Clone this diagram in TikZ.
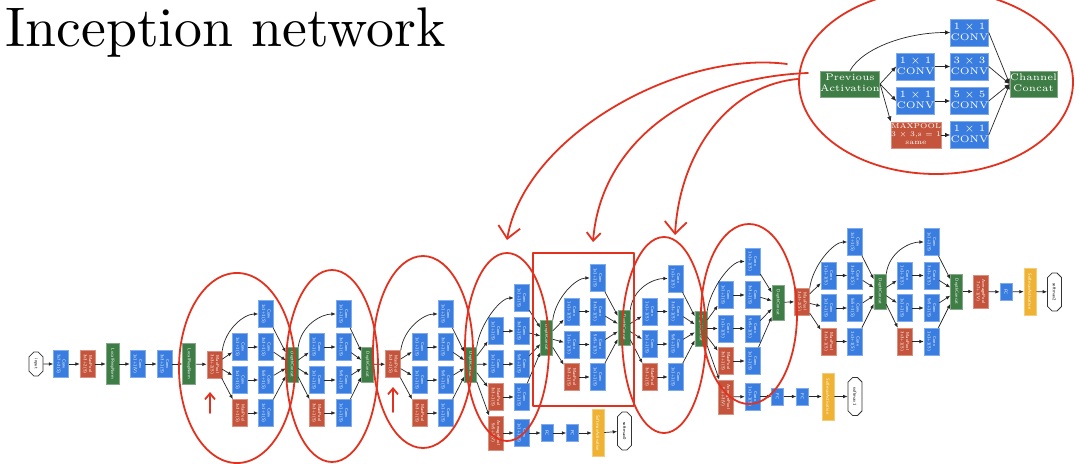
\documentclass[tikz,border=0pt]{standalone}
\usepackage{tikz}
\usetikzlibrary{arrows.meta,shapes.misc}
\definecolor{convBlue}{HTML}{3A7DE0}
\definecolor{poolRed}{HTML}{C4553C}
\definecolor{catGreen}{HTML}{3F7D46}
\definecolor{softYellow}{HTML}{EFB233}
\definecolor{inkRed}{HTML}{E2321F}
\font\ttlfont="[lmroman10-regular]:mapping=tex-text" at 27.9pt
\newcommand{\lyr}[2]{\rotatebox{-90}{\begin{tabular}{@{}c@{}}#1\\#2\end{tabular}}}
\newcommand{\lyrone}[1]{\rotatebox{-90}{#1}}
\newcommand{\twol}[2]{\begin{tabular}{@{}c@{}}#1\\#2\end{tabular}}
\tikzset{
  blk/.style={draw=#1!65!white,fill=#1,line width=0.25pt,inner sep=0pt,text=white,
    minimum width=7.5pt,minimum height=13.5pt,font=\sffamily\fontsize{2.2}{2.6}\selectfont},
  conv/.style={blk=convBlue},
  pool/.style={blk=poolRed},
  avgp/.style={blk=poolRed,minimum height=17pt},
  cat/.style={blk=catGreen,minimum width=6pt,minimum height=17.5pt},
  lrn/.style={blk=catGreen,minimum width=6.5pt,minimum height=20.5pt},
  fc/.style={blk=convBlue,minimum width=6pt,minimum height=8.5pt},
  smact/.style={blk=softYellow,minimum width=6pt,minimum height=23.5pt},
  term/.style={draw=black!80,fill=white,line width=0.4pt,chamfered rectangle,
    chamfered rectangle xsep=1.5pt,chamfered rectangle ysep=2.5pt,inner sep=0pt,
    minimum width=7pt,minimum height=19pt,font=\sffamily\fontsize{2.2}{2.6}\selectfont},
  lnk/.style={-{Latex[length=2.2pt,width=1.8pt]},line width=0.35pt,black!85},
  mbox/.style={draw=#1!65!white,fill=#1,line width=0.3pt,inner sep=0pt,text=white,
    minimum width=17.5pt,minimum height=13.5pt,font=\fontsize{4.8}{5.5}\selectfont},
  mlnk/.style={-{Latex[length=2.6pt,width=2.2pt]},line width=0.35pt,black!85},
  ink/.style={draw=inkRed,line width=0.9pt,line cap=round,line join=round}
}

\begin{document}
\begin{tikzpicture}[x=0.5pt,y=-0.5pt]
  \useasboundingbox[fill=white] (0,0) rectangle (1080,464);
  \node[anchor=base west,inner sep=0pt,font=\ttlfont] (title) at (5,47) {Inception network};

  % stem
  \node[term,minimum height=12pt] (input) at (36,364) {\lyrone{input}};
  \node[conv] (conv1) at (61,364) {\lyr{Conv}{7x7+2(S)}};
  \node[pool] (mp1) at (87.5,364) {\lyr{MaxPool}{3x3+2(S)}};
  \node[lrn] (lrn1) at (112.5,364) {\lyrone{LocalRespNorm}};
  \node[conv] (conv2) at (137.5,364) {\lyr{Conv}{1x1+1(V)}};
  \node[conv] (conv3) at (164.5,364) {\lyr{Conv}{3x3+1(S)}};
  \node[lrn] (lrn2) at (189,364) {\lyrone{LocalRespNorm}};
  \node[pool] (mp2) at (214.5,364.5) {\lyr{MaxPool}{3x3+2(S)}};
  \node[pool] (mp3) at (393,364) {\lyr{MaxPool}{3x3+2(S)}};
  \node[pool] (mp4) at (802,301.5) {\lyr{MaxPool}{3x3+2(S)}};
  \foreach \a/\b in {input/conv1,conv1/mp1,mp1/lrn1,lrn1/conv2,conv2/conv3,conv3/lrn2,lrn2/mp2}
    \draw[lnk] (\a) -- (\b);

  % inception blocks
  \foreach \m/\src/\xl/\xr/\xc/\yc/\ya/\yb/\yd/\ye in {
      3a/mp2/240/266/292/364.5/314/347/380/413,
      3b/3a-cat/316.5/343.5/367.5/364.5/314/347/380/413,
      4a/mp3/419.5/445.5/470.5/364.5/314/347/380/413,
      4b/4a-cat/495.5/521.5/546.5/337.5/298/331/364/397,
      4c/4b-cat/571.5/597.5/624/327.5/278/311.5/344.5/377,
      4d/4c-cat/649.5/675.5/701/328.5/278.5/311.5/344/377,
      4e/4d-cat/725.5/752.5/778/302.5/261.5/295/328.5/361,
      5a/mp4/828.5/855/880/291.5/242/275.5/308/341.5,
      5b/5a-cat/904.5/931.5/956.5/291.5/242/275.5/308/341.5} {
    \node[conv] (\m-t) at (\xr,\ya) {\lyr{Conv}{1x1+1(S)}};
    \node[conv] (\m-r1) at (\xl,\yb) {\lyr{Conv}{1x1+1(S)}};
    \node[conv] (\m-c3) at (\xr,\yb) {\lyr{Conv}{3x3+1(S)}};
    \node[conv] (\m-r2) at (\xl,\yd) {\lyr{Conv}{1x1+1(S)}};
    \node[conv] (\m-c5) at (\xr,\yd) {\lyr{Conv}{5x5+1(S)}};
    \node[pool] (\m-p) at (\xl,\ye) {\lyr{MaxPool}{3x3+1(S)}};
    \node[conv] (\m-pc) at (\xr,\ye) {\lyr{Conv}{1x1+1(S)}};
    \node[cat] (\m-cat) at (\xc,\yc) {\lyrone{DepthConcat}};
    \draw[lnk] (\src.north east) .. controls +(3,-22) and +(-14,0) .. (\m-t.west);
    \foreach \n in {r1,r2,p}
      \draw[lnk] (\src) -- (\m-\n);
    \draw[lnk] (\m-r1) -- (\m-c3);
    \draw[lnk] (\m-r2) -- (\m-c5);
    \draw[lnk] (\m-p) -- (\m-pc);
    \foreach \n in {t,c3,c5,pc}
      \draw[lnk] (\m-\n) -- (\m-cat);
  }

  % auxiliary heads and output
  \node[avgp] (ax0-avg) at (495.5,433) {\lyr{AveragePool}{5x5+3(V)}};
  \node[conv] (ax0-conv) at (521.5,433) {\lyr{Conv}{1x1+1(S)}};
  \node[fc] (ax0-fc1) at (547,433) {\lyrone{FC}};
  \node[fc] (ax0-fc2) at (572.5,433) {\lyrone{FC}};
  \node[smact] (ax0-sm) at (598,433) {\lyrone{SoftmaxActivation}};
  \node[term] (ax0-out) at (624.5,431) {\lyrone{softmax0}};
  \node[avgp] (ax1-avg) at (725.5,397) {\lyr{AveragePool}{5x5+3(V)}};
  \node[conv] (ax1-conv) at (752.5,396.5) {\lyr{Conv}{1x1+1(S)}};
  \node[fc] (ax1-fc1) at (777.5,396.5) {\lyrone{FC}};
  \node[fc] (ax1-fc2) at (802.5,396.5) {\lyrone{FC}};
  \node[smact] (ax1-sm) at (828,396.5) {\lyrone{SoftmaxActivation}};
  \node[term] (ax1-out) at (855,396.5) {\lyrone{softmax1}};
  \node[avgp,minimum height=16.5pt] (avg7) at (980.5,291.5) {\lyr{AveragePool}{7x7+1(V)}};
  \node[fc] (fc7) at (1006,292) {\lyrone{FC}};
  \node[smact] (sm2) at (1030,291.5) {\lyrone{SoftmaxActivation}};
  \node[term] (out2) at (1054.5,292) {\lyrone{softmax2}};
  \foreach \a/\b in {3b-cat/mp3,4e-cat/mp4,5b-cat/avg7,avg7/fc7,fc7/sm2,sm2/out2,
      4a-cat/ax0-avg,ax0-avg/ax0-conv,ax0-conv/ax0-fc1,ax0-fc1/ax0-fc2,ax0-fc2/ax0-sm,ax0-sm/ax0-out,
      4d-cat/ax1-avg,ax1-avg/ax1-conv,ax1-conv/ax1-fc1,ax1-fc1/ax1-fc2,ax1-fc2/ax1-sm,ax1-sm/ax1-out}
    \draw[lnk] (\a) -- (\b);

  % one inception module
  \node[mbox=catGreen,minimum width=26pt,minimum height=13pt] (prev) at (850,84) {\twol{Previous}{Activation}};
  \node[mbox=convBlue] (i-t) at (969.5,32.5) {\twol{1 × 1}{CONV}};
  \node[mbox=convBlue] (i-r1) at (915.5,66.5) {\twol{1 × 1}{CONV}};
  \node[mbox=convBlue] (i-c3) at (969.5,66.5) {\twol{3 × 3}{CONV}};
  \node[mbox=convBlue] (i-r2) at (915.5,101) {\twol{1 × 1}{CONV}};
  \node[mbox=convBlue] (i-c5) at (969.5,101) {\twol{5 × 5}{CONV}};
  \node[mbox=poolRed,minimum width=20pt,minimum height=13pt,font=\fontsize{3.6}{4}\selectfont] (i-mp) at (916,135)
    {\begin{tabular}{@{}c@{}}MAXPOOL\\3 × 3,s = 1\\same\end{tabular}};
  \node[mbox=convBlue] (i-pc) at (969.5,135) {\twol{1 × 1}{CONV}};
  \node[mbox=catGreen,minimum width=22.5pt,minimum height=13pt] (chcat) at (1033.5,84) {\twol{Channel}{Concat}};
  \draw[mlnk] (prev.north) .. controls +(12,-22) and +(-45,0) .. (i-t.west);
  \draw[mlnk] (prev.east) -- (i-r1.west);
  \draw[mlnk] (prev.east) -- (i-r2.west);
  \draw[mlnk] (prev.east) -- (i-mp.north west);
  \draw[mlnk] (i-r1) -- (i-c3);
  \draw[mlnk] (i-r2) -- (i-c5);
  \draw[mlnk] (i-mp) -- (i-pc);
  \foreach \n in {t,c3,c5,pc}
    \draw[mlnk] (i-\n.east) -- (chcat.west);

  % red pen marks
  \draw[ink] (936,82) ellipse [x radius=137, y radius=92];
  \coordinate (p1) at (787,64);
  \coordinate (p2) at (808,73);
  \coordinate (p3) at (798,79);
  \coordinate (q1) at (507,240);
  \coordinate (q2) at (593,242);
  \coordinate (q3) at (675,235);
  \draw[ink,-{Straight Barb[length=6pt,width=11pt]}] (p1) .. controls (680,50) and (525,135) .. (q1);
  \draw[ink,-{Straight Barb[length=4pt,width=7pt]}] (p2) .. controls (680,78) and (600,150) .. (q2);
  \draw[ink,-{Straight Barb[length=6pt,width=11pt]}] (p3) .. controls (730,85) and (680,150) .. (q3);
  \draw[ink] (533,253) rectangle (634,406);
  \foreach \cx/\cy/\rx/\ry in {237/368/58/95,332/366/46/96,423/352/50/96,507/347/42/94,664/335/42/98,749/314/48/90}
    \draw[ink] (\cx,\cy) ellipse [x radius=\rx, y radius=\ry];
  \coordinate (u1) at (210,413);
  \coordinate (v1) at (210,392);
  \coordinate (u2) at (393,412);
  \coordinate (v2) at (393,387);
  \draw[ink,-{Straight Barb[length=3pt,width=5pt]}] (u1) -- (v1);
  \draw[ink,-{Straight Barb[length=3pt,width=5pt]}] (u2) -- (v2);
\end{tikzpicture}
\end{document}
